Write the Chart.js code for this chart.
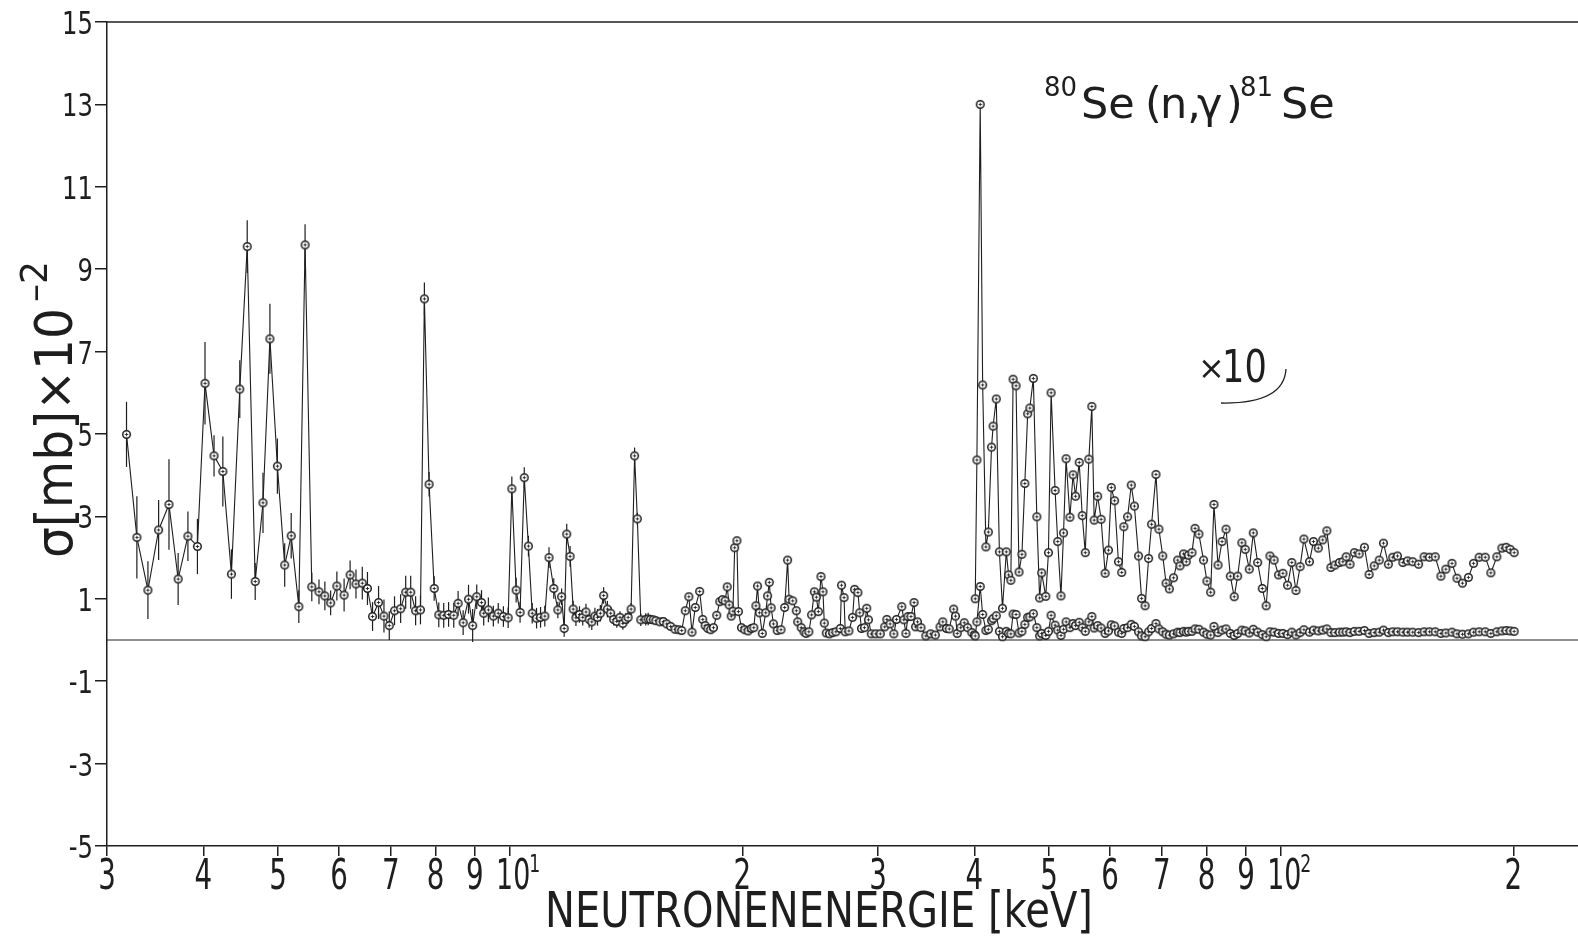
<!DOCTYPE html>
<html lang="de">
<head>
<meta charset="UTF-8">
<title>80Se(n,g)81Se</title>
<script src="https://cdn.jsdelivr.net/npm/chart.js"></script>
<style>
  html, body { margin: 0; padding: 0; background: #fff; }
</style>
</head>
<body>
<canvas id="seChart" width="1578" height="937"></canvas>

<script>
  // energies in keV, cross sections in mb x 10^-2
  // low energy part (with error bars up to ~15 keV)
  var energyLow = [3.18,3.28,3.39,3.50,3.61,3.71,3.82,3.93,4.02,4.13,4.24,4.35,4.46,4.56,4.67,4.78,4.88,4.99,5.10,5.20,
    5.32,5.42,5.53,5.65,5.75,5.85,5.96,6.09,6.20,6.31,6.43,6.53,6.63,6.75,6.86,6.97,7.08,7.21,7.32,7.43,
    7.54,7.65,7.74,7.85,7.97,8.08,8.20,8.32,8.45,8.56,8.69,8.83,8.94,9.05,9.18,9.24,9.37,9.51,9.65,9.80,
    9.94,10.05,10.18,10.30,10.43,10.56,10.68,10.82,10.95,11.09,11.23,11.39,11.53,11.66,11.75,11.84,11.96,12.07,12.17,12.30,
    12.42,12.54,12.66,12.76,12.88,12.98,13.09,13.22,13.37,13.50,13.62,13.75,13.88,14.00,14.12,14.22,14.35,14.50,14.62,14.77,
    14.99,15.10,15.20,15.33,15.45,15.64,15.80,15.96,16.15,16.36,16.55,16.69,16.87,17.05,17.21,17.38,17.61,17.77,17.90,18.05,
    18.20,18.35,18.53,18.70,18.85,19.00,19.12,19.23,19.35,19.45,19.55,19.68,19.77,19.95,20.15,20.35,20.55,20.70,20.83,20.93,
    21.05,21.23,21.45,21.57,21.68,21.80,21.95,22.20,22.45,22.70,22.90,23.00,23.25,23.50,23.60,23.85,24.05,24.20,24.40,24.60,
    24.80,24.95,25.10,25.30,25.45,25.55,25.70,25.95,26.20,26.45,26.80,26.90,27.10,27.20,27.50,27.80,27.97,28.25,28.40,28.55,
    28.80,29.00,29.15,29.40,29.80,30.20,30.60,30.80,31.10,31.45,31.70,32.20,32.40,32.60,32.80,33.10,33.40,33.55,33.75,34.10,
    34.60,35.10,35.60,36.10,36.40,36.80,37.10,37.60,37.80,38.00,38.40,38.80,39.20,39.70,40.00];
  var sigmaLow = [4.99,2.49,1.21,2.67,3.29,1.48,2.52,2.27,6.23,4.47,4.09,1.60,6.09,9.55,1.42,3.33,7.31,4.22,1.82,2.53,
    0.81,9.59,1.29,1.17,1.07,0.90,1.31,1.09,1.58,1.36,1.38,1.25,0.57,0.91,0.58,0.35,0.71,0.76,1.16,1.16,
    0.71,0.73,8.28,3.78,1.25,0.61,0.60,0.62,0.60,0.89,0.42,0.99,0.35,1.05,0.91,0.65,0.73,0.58,0.65,0.57,
    0.54,3.67,1.21,0.67,3.94,2.28,0.65,0.53,0.55,0.58,2.00,1.25,0.73,1.05,0.28,2.57,2.03,0.75,0.54,0.62,
    0.55,0.68,0.50,0.44,0.58,0.55,0.65,1.08,0.75,0.65,0.50,0.45,0.55,0.40,0.50,0.55,0.75,4.47,2.94,0.49,
    0.50,0.51,0.50,0.49,0.47,0.44,0.45,0.39,0.33,0.26,0.25,0.23,0.71,1.05,0.19,0.79,1.18,0.50,0.35,0.28,
    0.25,0.30,0.60,0.93,0.98,0.95,1.29,0.85,0.58,0.70,2.24,2.41,0.69,0.30,0.25,0.22,0.28,0.30,0.83,1.31,
    0.66,0.16,0.66,1.07,1.40,0.78,0.39,0.23,0.25,0.79,1.94,0.99,0.95,0.71,0.44,0.30,0.20,0.16,0.20,0.61,
    1.17,1.04,0.69,1.54,1.17,0.41,0.17,0.15,0.18,0.20,0.28,1.33,1.03,0.20,0.22,0.55,1.23,1.15,0.66,0.28,
    0.30,0.77,0.49,0.15,0.15,0.15,0.32,0.50,0.39,0.15,0.50,0.81,0.49,0.16,0.57,0.57,0.91,0.32,0.44,0.30,
    0.10,0.15,0.12,0.32,0.44,0.28,0.27,0.75,0.58,0.16,0.30,0.42,0.30,0.18,0.12];
  var errLow = [0.79,1.0,0.7,0.73,1.1,0.63,0.6,0.67,1.0,0.5,0.85,0.6,0.7,0.64,0.45,0.73,0.85,0.67,0.53,0.55,
    0.4,0.5,0.35,0.3,0.35,0.3,0.35,0.4,0.35,0.35,0.4,0.4,0.35,0.4,0.4,0.35,0.35,0.35,0.4,0.4,
    0.35,0.35,0.4,0.3,0.3,0.3,0.3,0.3,0.3,0.3,0.3,0.35,0.4,0.3,0.3,0.3,0.3,0.25,0.25,0.25,
    0.25,0.3,0.3,0.25,0.25,0.25,0.25,0.25,0.25,0.25,0.25,0.25,0.2,0.2,0.2,0.25,0.25,0.2,0.2,0.2,
    0.2,0.2,0.2,0.2,0.2,0.2,0.2,0.2,0.2,0.15,0.15,0.15,0.15,0.15,0.15,0.15,0.15,0.2,0.15,0.15,
    0.15,0.15];

  // high energy part: plain values and the x10 curve
  var energyHigh = [40.1,40.3,40.7,41.0,41.4,41.7,42.1,42.3,42.7,43.1,43.5,44.0,44.3,44.6,44.9,45.3,45.7,46.1,46.5,46.9,
    47.2,47.7,48.2,48.6,48.9,49.5,49.9,50.3,50.9,51.3,51.8,52.2,52.6,53.2,53.7,54.1,54.7,55.2,55.7,56.3,
    56.8,57.2,57.8,58.4,59.1,59.7,60.2,60.8,61.5,62.1,62.5,63.2,63.9,64.5,65.3,65.9,66.6,67.3,67.9,68.8,
    69.4,70.2,70.9,71.6,72.5,73.4,73.9,74.7,75.3,75.8,76.6,77.3,78.2,79.3,80.1,81.0,81.8,82.8,83.8,84.8,
    85.9,86.9,87.8,88.9,89.8,90.9,92.0,93.2,94.5,95.6,96.7,97.9,99.2,100.5,101.9,103.2,104.5,105.8,107.0,108.8,
    110.1,111.7,113.2,114.6,116.0,117.4,119.0,120.2,121.4,122.8,124.4,126.2,128.2,130.0,132.0,134.0,135.7,137.7,139.5,141.5,
    143.8,145.8,148.1,150.7,153.2,155.7,158.4,161.1,163.5,166.5,169.0,171.8,174.9,177.6,180.6,183.9,187.0,190.4,193.3,195.8,
    198.1,200.5];
  var sigmaHigh = [0.10,0.44,1.30,0.62,0.23,0.26,0.47,0.52,0.59,0.21,0.08,0.21,0.16,0.15,0.63,0.62,0.17,0.21,0.38,0.55,
    0.56,0.64,0.30,0.10,0.16,0.11,0.21,0.60,0.36,0.24,0.11,0.26,0.44,0.30,0.40,0.35,0.43,0.30,0.21,0.44,
    0.57,0.29,0.35,0.29,0.16,0.22,0.37,0.34,0.19,0.16,0.28,0.30,0.38,0.33,0.20,0.10,0.08,0.20,0.28,0.40,
    0.27,0.20,0.14,0.12,0.15,0.19,0.18,0.21,0.19,0.21,0.21,0.27,0.26,0.19,0.14,0.12,0.33,0.18,0.24,0.27,
    0.16,0.11,0.16,0.24,0.22,0.17,0.26,0.19,0.13,0.08,0.20,0.19,0.16,0.16,0.13,0.19,0.12,0.18,0.25,0.19,
    0.24,0.22,0.24,0.27,0.18,0.18,0.19,0.19,0.20,0.18,0.21,0.21,0.23,0.16,0.18,0.19,0.24,0.18,0.20,0.20,
    0.19,0.19,0.19,0.18,0.20,0.20,0.20,0.16,0.17,0.19,0.15,0.14,0.15,0.19,0.20,0.20,0.16,0.20,0.22,0.23,
    0.22,0.21];
  var sigmaHighX10 = [1.00,4.37,13.0,6.19,2.26,2.62,4.68,5.19,5.85,2.14,0.77,2.14,1.58,1.45,6.33,6.17,1.65,2.08,3.80,5.49,
    5.63,6.35,2.99,1.02,1.63,1.06,2.12,6.00,3.63,2.39,1.07,2.60,4.40,2.98,4.01,3.49,4.31,3.02,2.12,4.39,
    5.67,2.91,3.49,2.93,1.62,2.18,3.70,3.38,1.90,1.64,2.75,2.99,3.76,3.25,2.04,1.01,0.83,1.98,2.81,4.02,
    2.69,2.04,1.38,1.24,1.51,1.94,1.80,2.09,1.90,2.06,2.12,2.71,2.57,1.94,1.43,1.16,3.29,1.82,2.39,2.69,
    1.55,1.05,1.55,2.36,2.20,1.72,2.60,1.88,1.25,0.83,2.04,1.94,1.58,1.62,1.33,1.88,1.20,1.78,2.45,1.90,
    2.39,2.23,2.43,2.65,1.76,1.82,1.88,1.90,2.02,1.84,2.12,2.09,2.25,1.59,1.80,1.94,2.35,1.84,2.01,2.04,
    1.88,1.92,1.90,1.84,2.02,2.01,2.02,1.55,1.72,1.86,1.50,1.38,1.52,1.86,2.01,2.01,1.63,2.02,2.23,2.25,
    2.20,2.12];

  var xTickValues = [3,4,5,6,7,8,9,10,20,30,40,50,60,70,80,90,100,200];
  var xTickLabels = ['3','4','5','6','7','8','9','10','2','3','4','5','6','7','8','9','10','2'];
  var xTickExponents = ['','','','','','','','1','','','','','','','','','2',''];

  var FONT = "'DejaVu Sans', sans-serif";
  var INK = '#1e1e1e';

  function toPoints(xs, ys) {
    return xs.map(function(x, i) { return { x: x, y: ys[i] }; });
  }

  // small open circle with a cross, like the plotter marks
  function makeMarker() {
    var c = document.createElement('canvas');
    c.width = 11; c.height = 11;
    var g = c.getContext('2d');
    g.beginPath();
    g.arc(5.5, 5.5, 3.8, 0, 2 * Math.PI);
    g.fillStyle = '#fff';
    g.fill();
    g.lineWidth = 1.5;
    g.strokeStyle = INK;
    g.stroke();
    g.beginPath();
    g.moveTo(3.8, 5.5); g.lineTo(7.2, 5.5);
    g.moveTo(5.5, 3.8); g.lineTo(5.5, 7.2);
    g.lineWidth = 0.9;
    g.stroke();
    return c;
  }
  var marker = makeMarker();

  // text squeezed horizontally, the plotter lettering is narrow
  function narrowText(ctx, text, x, y, sx, align) {
    ctx.save();
    ctx.translate(x, y);
    ctx.scale(sx, 1);
    ctx.textAlign = align || 'left';
    ctx.fillText(text, 0, 0);
    ctx.restore();
    return ctx.measureText(text).width * sx;
  }

  var errorBars = {
    id: 'errorBars',
    beforeDatasetsDraw: function(chart) {
      var ctx = chart.ctx, xs = chart.scales.x, ys = chart.scales.y;
      ctx.save();
      ctx.strokeStyle = INK;
      ctx.lineWidth = 1.2;
      for (var i = 0; i < errLow.length; i++) {
        var px = xs.getPixelForValue(energyLow[i]);
        ctx.beginPath();
        ctx.moveTo(px, ys.getPixelForValue(sigmaLow[i] - errLow[i]));
        ctx.lineTo(px, ys.getPixelForValue(sigmaLow[i] + errLow[i]));
        ctx.stroke();
      }
      ctx.restore();
    }
  };

  var decorations = {
    id: 'decorations',
    afterDraw: function(chart) {
      var ctx = chart.ctx, a = chart.chartArea;
      var xs = chart.scales.x, ys = chart.scales.y;
      ctx.save();
      ctx.strokeStyle = INK;
      ctx.fillStyle = INK;
      ctx.textBaseline = 'alphabetic';

      // frame line on top
      ctx.lineWidth = 1.5;
      ctx.beginPath();
      ctx.moveTo(a.left, a.top);
      ctx.lineTo(a.right, a.top);
      ctx.stroke();

      // x tick labels
      for (var i = 0; i < xTickValues.length; i++) {
        var px = xs.getPixelForValue(xTickValues[i]);
        ctx.font = "42px " + FONT;
        if (xTickExponents[i]) {
          narrowText(ctx, xTickLabels[i], px + 3, 889, 0.64, 'center');
          ctx.font = "24px " + FONT;
          narrowText(ctx, xTickExponents[i], px + 19, 872, 0.72, 'left');
        } else {
          narrowText(ctx, xTickLabels[i], px, 889, 0.66, 'center');
        }
      }

      // y tick labels
      ctx.font = "32px " + FONT;
      ys.ticks.forEach(function(t) {
        var py = ys.getPixelForValue(t.value);
        narrowText(ctx, String(t.value), 93, py + 12, 0.76, 'right');
      });

      // x axis title
      ctx.font = "50px " + FONT;
      var title = 'NEUTRONENENERGIE [keV]';
      var sx = 548 / ctx.measureText(title).width;
      narrowText(ctx, title, 819, 927, sx, 'center');

      // y axis title, rotated
      ctx.save();
      ctx.translate(72, 558);
      ctx.rotate(-Math.PI / 2);
      ctx.font = "52px " + FONT;
      var mainLabel = '\u03C3[mb]\u00D710';
      var msx = 250 / ctx.measureText(mainLabel).width;
      narrowText(ctx, mainLabel, 0, 0, msx, 'left');
      ctx.font = "38px " + FONT;
      narrowText(ctx, '\u20132', 256, -25, 0.95, 'left');
      ctx.restore();

      // reaction label
      ctx.textAlign = 'left';
      ctx.font = "26px " + FONT;
      ctx.fillText('80', 1044, 96);
      ctx.fillText('81', 1240, 96);
      ctx.font = "43px " + FONT;
      ctx.fillText('Se', 1081, 118);
      ctx.fillText('(', 1145, 118);
      ctx.fillText('n,', 1160, 118);
      ctx.fillText('\u03B3', 1197, 118);
      ctx.fillText(')', 1226, 118);
      ctx.fillText('Se', 1281, 118);

      // x10 marker for the upper curve
      ctx.font = "32px " + FONT;
      ctx.fillText('\u00D7', 1198, 379);
      ctx.font = "44px " + FONT;
      narrowText(ctx, '10', 1222, 382, 0.8, 'left');
      ctx.lineWidth = 1.3;
      ctx.beginPath();
      ctx.moveTo(1221, 403);
      ctx.quadraticCurveTo(1284, 404, 1286, 369);
      ctx.stroke();

      ctx.restore();
    }
  };

  var ctx = document.getElementById('seChart').getContext('2d');

  new Chart(ctx, {
    type: 'line',
    data: {
      datasets: [{
        label: 'sigma',
        data: toPoints(energyLow.concat(energyHigh), sigmaLow.concat(sigmaHigh)),
        borderColor: INK,
        borderWidth: 1.1,
        pointStyle: marker,
        pointRadius: 4,
        tension: 0
      }, {
        label: 'sigma x10',
        data: toPoints(energyHigh, sigmaHighX10),
        borderColor: INK,
        borderWidth: 1.1,
        pointStyle: marker,
        pointRadius: 4,
        tension: 0
      }, {
        label: 'zero',
        data: [{ x: 3, y: 0 }, { x: 242.6, y: 0 }],
        borderColor: INK,
        borderWidth: 1,
        pointRadius: 0
      }]
    },
    options: {
      responsive: false,
      animation: false,
      devicePixelRatio: 1,
      layout: { autoPadding: false, padding: { top: 22, right: 0, bottom: 0, left: 0 } },
      plugins: {
        legend: { display: false },
        tooltip: { enabled: false }
      },
      scales: {
        x: {
          type: 'logarithmic',
          min: 3,
          max: 242.6,
          afterBuildTicks: function(scale) {
            scale.ticks = xTickValues.map(function(v) { return { value: v }; });
          },
          afterFit: function(scale) {
            scale.height = 91;
            scale.paddingLeft = 0;
            scale.paddingRight = 0;
          },
          ticks: { display: false, autoSkip: false, maxRotation: 0 },
          grid: { drawOnChartArea: false, tickLength: 10, color: INK, lineWidth: 1.5 },
          border: { display: true, color: INK, width: 1.5 }
        },
        y: {
          min: -5,
          max: 15,
          afterFit: function(scale) {
            scale.width = 107;
            scale.paddingTop = 0;
            scale.paddingBottom = 0;
          },
          ticks: { display: false, stepSize: 2 },
          grid: { drawOnChartArea: false, tickLength: 12, color: INK, lineWidth: 1.5 },
          border: { display: true, color: INK, width: 1.5 }
        }
      }
    },
    plugins: [errorBars, decorations]
  });
</script>
</body>
</html>
